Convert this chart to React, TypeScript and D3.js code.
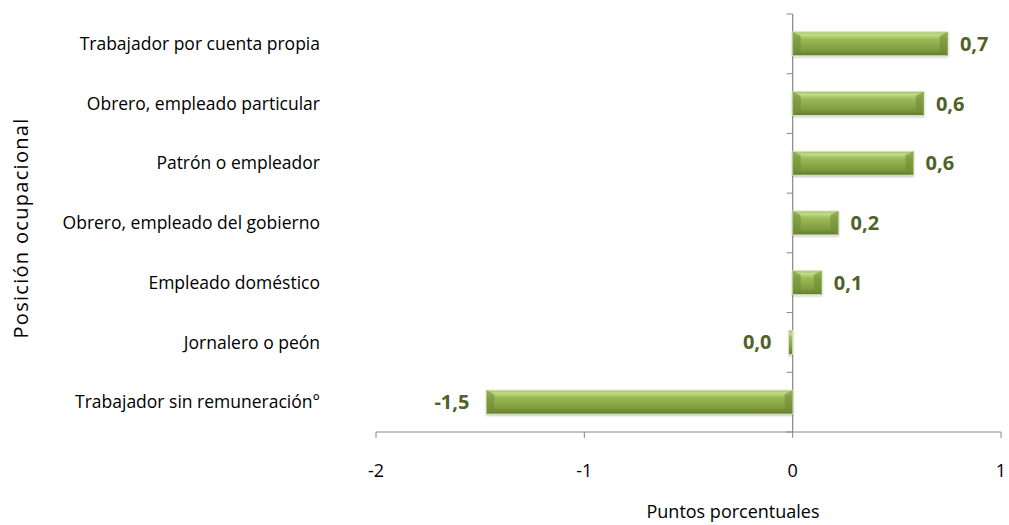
import React from "react";
import * as d3 from "d3";

const categories = [
  "Trabajador por cuenta propia",
  "Obrero, empleado particular",
  "Patrón o empleador",
  "Obrero, empleado del gobierno",
  "Empleado doméstico",
  "Jornalero o peón",
  "Trabajador sin remuneración°",
];
const values = [0.745, 0.63, 0.58, 0.22, 0.14, -0.02, -1.47];
const xTicks = [-2, -1, 0, 1];

const W = 1009;
const H = 525;
const FONT = "'Open Sans', 'DejaVu Sans', sans-serif";

function fmt(v: number) {
  const r = Math.round(v * 10) / 10;
  const s = (Object.is(r, -0) || r === 0 ? 0 : r).toFixed(1);
  return s.replace(".", ",");
}

export default function App() {
  const x = d3.scaleLinear().domain([-2, 1]).range([376, 1001]);
  const y = d3.scaleBand<string>().domain(categories).range([14, 432]).paddingInner(0.6).paddingOuter(0.3);
  const band = d3.scaleBand<string>().domain(categories).range([14, 432]);
  const x0 = x(0);
  const axisY = 432;
  return (
    <svg width={W} height={H} style={{ position: "absolute", left: 0, top: 0 }} fontFamily={FONT}>
      <defs>
        <linearGradient id="barg" x1="0" y1="0" x2="0" y2="1">
          <stop offset="0" stopColor="#9dbd5c" />
          <stop offset="0.12" stopColor="#c2dd8a" />
          <stop offset="0.3" stopColor="#9cbb58" />
          <stop offset="0.75" stopColor="#7f9c3f" />
          <stop offset="1" stopColor="#62792c" />
        </linearGradient>
        <filter id="sh" x="-5%" y="-30%" width="110%" height="160%">
          <feDropShadow dx="0" dy="1" stdDeviation="1" floodColor="#000" floodOpacity="0.25" />
        </filter>
      </defs>
      {/* y axis */}
      <line x1={x0} x2={x0} y1={14} y2={axisY} stroke="#888" strokeWidth={1.2} />
      {categories.map((c, i) => (
        <line key={"yt" + i} x1={x0 - 6} x2={x0} y1={band(c)!} y2={band(c)!} stroke="#888" />
      ))}
      <line x1={x0 - 6} x2={x0} y1={axisY} y2={axisY} stroke="#888" />
      {/* x axis */}
      <line x1={x(-2)} x2={x(1)} y1={axisY} y2={axisY} stroke="#888" strokeWidth={1.2} />
      {xTicks.map((t) => (
        <g key={"xt" + t}>
          <line x1={x(t)} x2={x(t)} y1={axisY} y2={axisY + 6} stroke="#888" />
          <text x={x(t)} y={477} textAnchor="middle" fontSize={18} fill="#000">
            {t}
          </text>
        </g>
      ))}
      {/* bars */}
      {categories.map((c, i) => {
        const v = values[i];
        const bx = Math.min(x(v), x0);
        const bw = Math.max(Math.abs(x(v) - x0), 3);
        const by = y(c)!;
        const bh = y.bandwidth();
        const bev = Math.min(8, bw / 2);
        return (
          <g key={"b" + i} filter="url(#sh)">
            <rect x={bx} y={by} width={bw} height={bh} fill="url(#barg)" stroke="#d6e6b8" strokeWidth={1} />
            {bw > 10 && (
              <>
                <polygon points={`${bx},${by} ${bx + bev},${by + 4} ${bx + bev},${by + bh - 4} ${bx},${by + bh}`} fill="#6f8c35" opacity={0.6} />
                <polygon points={`${bx + bw},${by} ${bx + bw - bev},${by + 4} ${bx + bw - bev},${by + bh - 4} ${bx + bw},${by + bh}`} fill="#6f8c35" opacity={0.6} />
              </>
            )}
          </g>
        );
      })}
      {/* data labels */}
      {categories.map((c, i) => {
        const v = values[i];
        const pos = v >= 0;
        const lx = pos ? x(v) + 12 : Math.min(x(v), x0 - 4) - 17;
        return (
          <text
            key={"l" + i}
            x={lx}
            y={y(c)! + y.bandwidth() / 2}
            dy="0.35em"
            textAnchor={pos ? "start" : "end"}
            fontSize={20}
            fontWeight="bold"
            fill="#4f6228"
          >
            {fmt(v)}
          </text>
        );
      })}
      {/* category labels */}
      {categories.map((c, i) => (
        <text
          key={"c" + i}
          x={320}
          y={band(c)! + band.bandwidth() / 2}
          dy="0.35em"
          textAnchor="end"
          fontSize={17.5}
          fill="#000"
        >
          {c}
        </text>
      ))}
      {/* axis titles */}
      <text
        transform={`translate(28,228) rotate(-90)`}
        textAnchor="middle"
        fontSize={20}
        letterSpacing={1.3}
        fill="#000"
      >
        Posición ocupacional
      </text>
      <text x={733} y={518} textAnchor="middle" fontSize={18} fill="#000">
        Puntos porcentuales
      </text>
    </svg>
  );
}
